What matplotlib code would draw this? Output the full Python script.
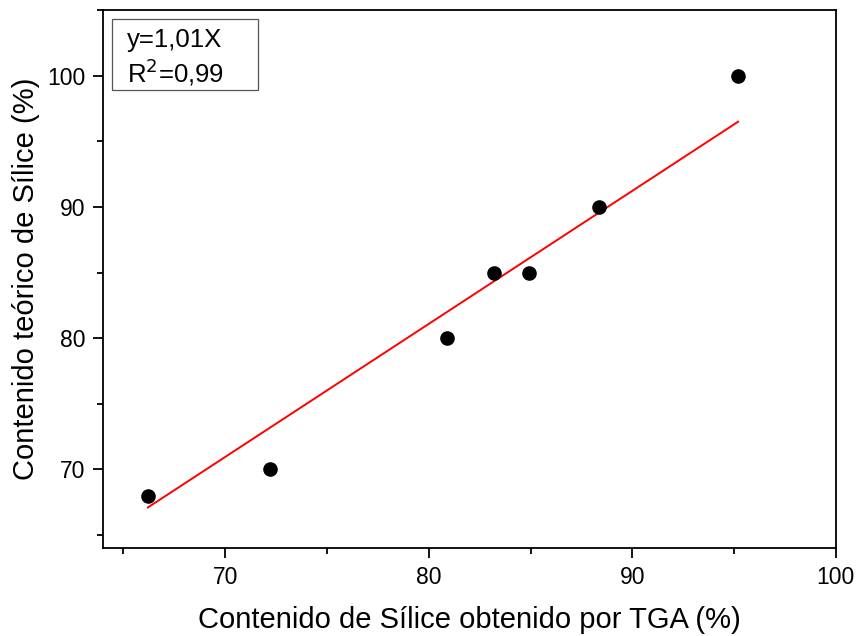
import numpy as np
import matplotlib.pyplot as plt
from matplotlib.ticker import MultipleLocator
from matplotlib.patches import Rectangle

plt.rcParams['font.family'] = ['Liberation Sans', 'DejaVu Sans']

# data
tga = [66.2, 72.2, 80.9, 83.2, 84.95, 88.35, 95.2]
teorico = [68, 70, 80, 85, 85, 90, 100]

x = np.array(tga)
y = np.array(teorico)
slope = np.sum(x * y) / np.sum(x * x)  # fit through origin

fig = plt.figure(figsize=(8.59, 6.36), dpi=100)
ax = fig.add_axes([0.120, 0.138, 0.853, 0.846])

ax.scatter(x, y, s=90, color='black', zorder=3)
xl = np.array([x.min(), x.max()])
ax.plot(xl, slope * xl, color='red', lw=1.4)

ax.set_xlim(64, 100)
ax.set_ylim(64, 105)
ax.xaxis.set_major_locator(MultipleLocator(10))
ax.xaxis.set_minor_locator(MultipleLocator(5))
ax.yaxis.set_major_locator(MultipleLocator(10))
ax.yaxis.set_minor_locator(MultipleLocator(5))
ax.tick_params(which='major', direction='out', length=7, width=1.3, labelsize=16.5, pad=6)
ax.tick_params(which='minor', direction='out', length=4, width=1.3)
for s in ax.spines.values():
    s.set_linewidth(1.3)

ax.set_xlabel('Contenido de Sílice obtenido por TGA (%)', fontsize=21, labelpad=12)
ax.set_ylabel('Contenido teórico de Sílice (%)', fontsize=21, labelpad=5)

# text box like the original
ax.add_patch(Rectangle((0.0123, 0.851), 0.199, 0.132, transform=ax.transAxes,
                       fc='white', ec='#555555', lw=0.9, zorder=4))
ax.text(0.0327, 0.944, 'y=1,01X', transform=ax.transAxes, fontsize=18.5,
        va='center', ha='left', zorder=5)
ax.text(0.0327, 0.884, 'R$^{2}$=0,99', transform=ax.transAxes, fontsize=18.5,
        va='center', ha='left', zorder=5)

fig.savefig('out.png', dpi=100)
